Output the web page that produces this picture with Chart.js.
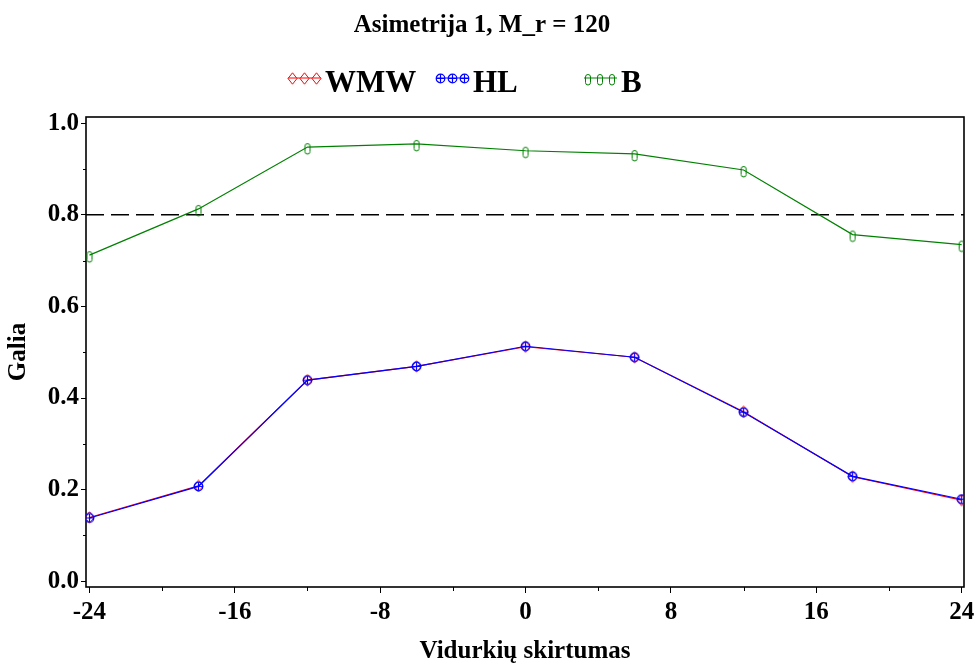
<!DOCTYPE html>
<html lang="lt">
<head>
  <meta charset="utf-8" />
  <title>Asimetrija 1, M_r = 120</title>
  <script src="https://cdn.jsdelivr.net/npm/chart.js"></script>
  <style>
    html, body { margin: 0; padding: 0; background: #fff; }
    #wrap { width: 976px; height: 665px; }
  </style>
</head>
<body>
  <div id="wrap"><canvas id="powerChart"></canvas></div>

  <script>
    // duomenys (nuskaityta nuo paveikslo)
    const xValues  = [-24, -18, -12, -6, 0, 6, 12, 18, 24];
    const wmwPower = [0.139, 0.208, 0.439, 0.469, 0.512, 0.489, 0.370, 0.228, 0.177];
    const hlPower  = [0.138, 0.207, 0.439, 0.469, 0.513, 0.489, 0.369, 0.229, 0.179];
    const bPower   = [0.712, 0.813, 0.948, 0.955, 0.940, 0.933, 0.898, 0.757, 0.735];

    const seriesNames = ["WMW", "HL", "B"];
    const referencePower = 0.8;

    // asiu padalos
    const xMajorTicks = [-24, -16, -8, 0, 8, 16, 24];
    const xMinorTicks = [-20, -12, -4, 4, 12, 20];
    const yMajorTicks = [0.0, 0.2, 0.4, 0.6, 0.8, 1.0];
    const yMinorTicks = [0.1, 0.3, 0.5, 0.7, 0.9];

    const FONT = "'Liberation Serif', 'Times New Roman', serif";

    // markeriai kaip maži canvas'ai
    function makeMarker(kind, color) {
      const c = document.createElement("canvas");
      const g = c.getContext("2d");
      if (kind === "diamond") {
        c.width = 11; c.height = 13;
        g.strokeStyle = color; g.lineWidth = 1;
        g.beginPath();
        g.moveTo(5.5, 0.8); g.lineTo(10, 6.5); g.lineTo(5.5, 12.2); g.lineTo(1, 6.5);
        g.closePath(); g.stroke();
      } else if (kind === "circleplus") {
        c.width = 11; c.height = 11;
        g.strokeStyle = color; g.lineWidth = 1.2;
        g.beginPath(); g.arc(5.5, 5.5, 4.3, 0, Math.PI * 2); g.stroke();
        g.beginPath();
        g.moveTo(1.2, 5.5); g.lineTo(9.8, 5.5);
        g.moveTo(5.5, 1.2); g.lineTo(5.5, 9.8);
        g.stroke();
      } else {
        // "0" formos simbolis, šiek tiek žemiau taško
        c.width = 8; c.height = 22;
        g.strokeStyle = color; g.lineWidth = 1;
        const x = 1.5, y = 7.5, w = 5, h = 10.5, r = 2.5;
        g.beginPath();
        g.moveTo(x + r, y);
        g.arcTo(x + w, y, x + w, y + h, r);
        g.arcTo(x + w, y + h, x, y + h, r);
        g.arcTo(x, y + h, x, y, r);
        g.arcTo(x, y, x + w, y, r);
        g.closePath(); g.stroke();
      }
      return c;
    }

    const colors = ["#ff0000", "#0000ff", "#008000"];
    const markers = [
      makeMarker("diamond", colors[0]),
      makeMarker("circleplus", colors[1]),
      makeMarker("capsule", colors[2])
    ];
    const powers = [wmwPower, hlPower, bPower];
    const drawOrder = [1, 0, 2];

    const datasets = seriesNames.map((name, i) => ({
      label: name,
      data: xValues.map((x, k) => ({ x: x, y: powers[i][k] })),
      borderColor: colors[i],
      backgroundColor: colors[i],
      borderWidth: 1.2,
      pointStyle: markers[i],
      pointRadius: 5,
      pointHoverRadius: 5,
      showLine: true,
      fill: false,
      tension: 0,
      order: drawOrder[i]
    }));

    // rėmelis, 0.8 linija, smulkios padalos
    const framePlugin = {
      id: "frame",
      beforeDatasetsDraw(chart) {
        const { ctx, chartArea: a, scales } = chart;
        ctx.save();
        // punktyrinė linija ties 0.8
        const yRef = scales.y.getPixelForValue(referencePower);
        ctx.strokeStyle = "#000";
        ctx.lineWidth = 1.5;
        ctx.setLineDash([18, 7]);
        ctx.beginPath();
        ctx.moveTo(a.left, yRef); ctx.lineTo(a.right, yRef);
        ctx.stroke();
        ctx.setLineDash([]);
        // rėmelis
        ctx.lineWidth = 1.6;
        ctx.strokeRect(a.left, a.top, a.right - a.left, a.bottom - a.top);
        // smulkios padalos
        ctx.lineWidth = 1;
        ctx.beginPath();
        xMinorTicks.forEach(v => {
          const px = Math.round(scales.x.getPixelForValue(v)) + 0.5;
          ctx.moveTo(px, a.bottom); ctx.lineTo(px, a.bottom + 4);
        });
        yMinorTicks.forEach(v => {
          const py = Math.round(scales.y.getPixelForValue(v)) + 0.5;
          ctx.moveTo(a.left, py); ctx.lineTo(a.left - 3, py);
        });
        ctx.stroke();
        ctx.restore();
      }
    };

    // legenda su trimis žymekliais
    const legendPlugin = {
      id: "sasLegend",
      afterDraw(chart, args, opts) {
        const ctx = chart.ctx;
        ctx.save();
        chart.data.datasets.forEach((ds, i) => {
          const x0 = opts.itemX[i];
          const y = opts.lineY;
          ctx.strokeStyle = ds.borderColor;
          ctx.lineWidth = 1.2;
          ctx.beginPath();
          ctx.moveTo(x0, y); ctx.lineTo(x0 + opts.sampleWidth, y);
          ctx.stroke();
          const m = ds.pointStyle;
          [4, 16, 28].forEach(dx => {
            ctx.drawImage(m, Math.round(x0 + dx - m.width / 2), Math.round(y - m.height / 2));
          });
          ctx.fillStyle = "#000";
          ctx.font = "bold 31px " + FONT;
          ctx.textBaseline = "alphabetic";
          ctx.textAlign = "left";
          ctx.fillText(ds.label, x0 + opts.sampleWidth + 4, opts.textBaseline);
        });
        ctx.restore();
      }
    };

    const isMajor = (v, majors) => majors.some(m => Math.abs(m - v) < 1e-9);

    const ctx = document.getElementById("powerChart").getContext("2d");
    new Chart(ctx, {
      type: "scatter",
      data: { datasets: datasets },
      plugins: [framePlugin, legendPlugin],
      options: {
        responsive: true,
        maintainAspectRatio: false,
        animation: false,
        layout: { padding: { top: 0, left: 0, right: 12, bottom: 0 } },
        plugins: {
          legend: { display: false },
          tooltip: { enabled: false },
          title: {
            display: true,
            text: "Asimetrija 1, M_r = 120",
            color: "#000",
            font: { family: FONT, size: 25, weight: "bold" },
            padding: { top: 11, bottom: 76 }
          },
          sasLegend: {
            itemX: [288, 436, 584],
            sampleWidth: 33,
            lineY: 78,
            textBaseline: 92
          }
        },
        scales: {
          x: {
            type: "linear",
            min: -24.19,
            max: 24.13,
            afterBuildTicks: axis => {
              axis.ticks = xMajorTicks.map(v => ({ value: v }));
            },
            afterFit: axis => {
              axis.height = 78;
              axis.paddingLeft = 0;
              axis.paddingRight = 0;
            },
            grid: {
              display: true,
              drawOnChartArea: false,
              drawTicks: true,
              tickLength: 6,
              tickColor: "#000",
              tickWidth: 1
            },
            border: { display: false },
            ticks: {
              autoSkip: false,
              maxRotation: 0,
              padding: 5,
              color: "#000",
              font: { family: FONT, size: 25, weight: "bold" },
              callback: v => String(v)
            },
            title: {
              display: true,
              text: "Vidurkių skirtumas",
              color: "#000",
              font: { family: FONT, size: 25, weight: "bold" },
              padding: { top: 0, bottom: -2 }
            }
          },
          y: {
            type: "linear",
            min: -0.0127,
            max: 1.0137,
            afterBuildTicks: axis => {
              axis.ticks = yMajorTicks.map(v => ({ value: v }));
            },
            afterFit: axis => {
              axis.width = 86;
              axis.paddingTop = 0;
              axis.paddingBottom = 0;
            },
            grid: {
              display: true,
              drawOnChartArea: false,
              drawTicks: true,
              tickLength: 5,
              tickColor: "#000",
              tickWidth: 1
            },
            border: { display: false },
            ticks: {
              autoSkip: false,
              padding: 2,
              color: "#000",
              font: { family: FONT, size: 25, weight: "bold" },
              callback: v => isMajor(v, yMajorTicks) ? v.toFixed(1) : ""
            },
            title: {
              display: true,
              text: "Galia",
              color: "#000",
              font: { family: FONT, size: 25, weight: "bold" },
              padding: { top: 4, bottom: 0 }
            }
          }
        }
      }
    });
  </script>
</body>
</html>
